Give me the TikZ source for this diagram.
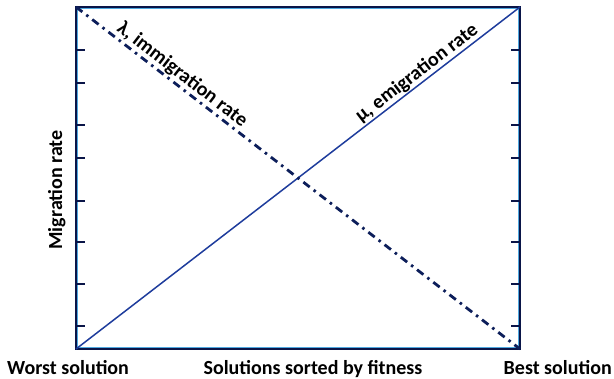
\documentclass[tikz,border=0pt]{standalone}
\usepackage{fontspec}
\setmainfont{Carlito}
\usepackage{xcolor}
\usetikzlibrary{positioning}
\definecolor{axisnavy}{HTML}{0A1548}
\definecolor{axisedge}{HTML}{4FA8E0}
\definecolor{mublue}{HTML}{1E3C9C}
\definecolor{lambdanavy}{HTML}{0C1E5A}

\begin{document}
\begin{tikzpicture}[x=1pt,y=-1pt,font=\fontsize{20}{24}\selectfont\bfseries,
  axisline/.style={axisnavy, line width=2.6pt},
  tickmark/.style={axisnavy, line width=2pt},
  rateline/.style={mublue, line width=1.5pt},
  dashdotline/.style={lambdanavy, line width=2.8pt,
    dash pattern=on 8pt off 5pt on 2.5pt off 5pt},
  ratelabel/.style={sloped, above, inner sep=1pt}]
\useasboundingbox (0,0) rectangle (614,379);
% frame corners
\coordinate (ul) at (76,7);
\coordinate (ur) at (520,7);
\coordinate (ll) at (76,349);
\coordinate (lr) at (520,349);
\draw[axisedge, line width=0.8pt] (77.8,8.8) rectangle (518.2,347.2);
\draw[axisline] (ul) rectangle (lr);
% ticks on both sides
\foreach \ty in {50,83,125,158,201,242,284,326} {
  \draw[tickmark] (76,\ty) -- ++(9,0);
  \draw[tickmark] (520,\ty) -- ++(-9,0);
}
% the two rates
\draw[rateline] (ll) -- node[ratelabel, pos=0.782, text=black] {μ, emigration rate} (ur);
\draw[dashdotline] (ul) -- node[ratelabel, pos=0.224, text=black] {λ, immigration rate} (lr);
% axis labels
\node[anchor=base west, inner sep=0pt] (worst) at (7,375) {Worst solution};
\node[anchor=base, inner sep=0pt] (sorted) at (313,375) {Solutions sorted by fitness};
\node[anchor=base east, inner sep=0pt] (best) at (612,375) {Best solution};
\node[anchor=base, rotate=90, inner sep=0pt] (migration) at (62,190) {Migration rate};
\end{tikzpicture}
\end{document}
